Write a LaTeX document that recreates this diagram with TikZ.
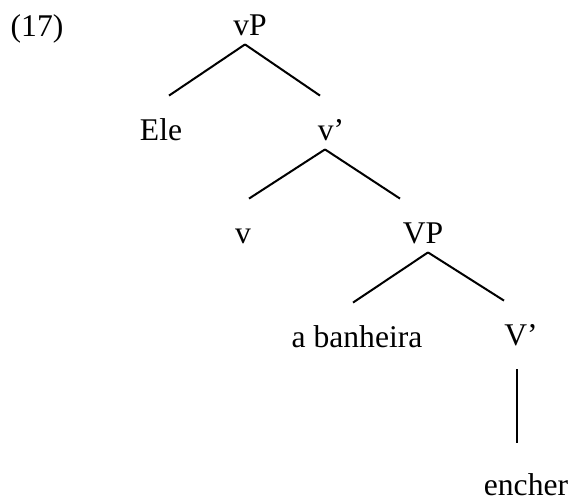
\documentclass[tikz,border=0pt]{standalone}
\usepackage{fontspec}
\setmainfont{Liberation Serif}
\usepackage{tikz}
\tikzstyle{cat} = [inner sep=0pt,
                   anchor=base,
                   text height=22pt,
                   text depth=4.5pt,
                   font=\fontsize{15.8}{19}\selectfont]
\tikzstyle{branch} = [line width=1pt]

\begin{document}
\begin{tikzpicture}[x=0.5pt, y=-0.5pt]

    \useasboundingbox (0,0) rectangle (571,500);

    \node (ex)     [cat] at (37,36)   {(17)};
    \node (vP)     [cat] at (250,35)  {vP};
    \node (Ele)    [cat] at (161,140) {Ele};
    \node (vbar)   [cat] at (331,140) {v’};
    \node (v)      [cat] at (243,243) {v};
    \node (VP)     [cat] at (423,243) {VP};
    \node (banh)   [cat] at (357,347) {a banheira};
    \node (Vbar)   [cat] at (521,345) {V’};
    \node (encher) [cat] at (526,495) {encher};

    \draw [branch] ([xshift=-2.5pt]vP.south)   -- ([xshift=4pt]Ele.north);
    \draw [branch] ([xshift=-2.5pt]vP.south)   -- ([xshift=-5.5pt]vbar.north);
    \draw [branch] ([xshift=-3pt]vbar.south)   -- ([xshift=3pt]v.north);
    \draw [branch] ([xshift=-3pt]vbar.south)   -- ([xshift=-11.5pt]VP.north);
    \draw [branch] ([xshift=2.5pt]VP.south)    -- ([xshift=-2pt]banh.north);
    \draw [branch] ([xshift=2.5pt]VP.south)    -- ([xshift=-8.5pt]Vbar.north);
    \draw [branch] ([xshift=-2pt,yshift=-7.5pt]Vbar.south)
                -- ([xshift=-4.5pt,yshift=4pt]encher.north);

\end{tikzpicture}
\end{document}
